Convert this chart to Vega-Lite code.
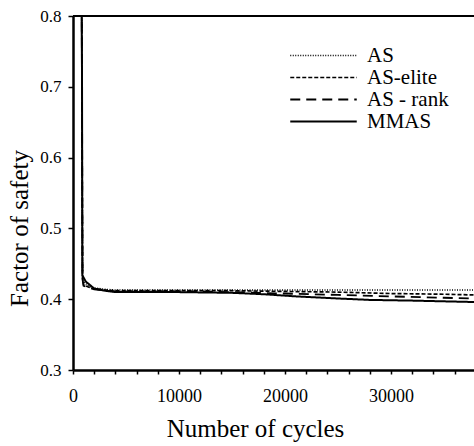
{
  "$schema": "https://vega.github.io/schema/vega-lite/v6.json",
  "autosize": {"type": "none"},
  "padding": {"left": 73, "top": 16, "right": 0, "bottom": 76},
  "width": 401,
  "height": 354,
  "background": "white",
  "config": {
    "view": {"stroke": null},
    "font": "Liberation Serif",
    "style": {
      "guide-label": {"font": "Liberation Serif", "fill": "black"},
      "guide-title": {"font": "Liberation Serif", "fill": "black"}
    }
  },
  "data": {"values": [
    {"s": "AS", "x": 800, "y": 0.95}, {"s": "AS", "x": 900, "y": 0.432}, {"s": "AS", "x": 1000, "y": 0.425}, {"s": "AS", "x": 1500, "y": 0.418}, {"s": "AS", "x": 2000, "y": 0.416}, {"s": "AS", "x": 3000, "y": 0.414}, {"s": "AS", "x": 4000, "y": 0.413}, {"s": "AS", "x": 10000, "y": 0.413}, {"s": "AS", "x": 20000, "y": 0.413}, {"s": "AS", "x": 30000, "y": 0.413}, {"s": "AS", "x": 37830, "y": 0.413},
    {"s": "AS-elite", "x": 800, "y": 0.95}, {"s": "AS-elite", "x": 900, "y": 0.43}, {"s": "AS-elite", "x": 1000, "y": 0.42}, {"s": "AS-elite", "x": 1500, "y": 0.417}, {"s": "AS-elite", "x": 2000, "y": 0.415}, {"s": "AS-elite", "x": 3000, "y": 0.413}, {"s": "AS-elite", "x": 4000, "y": 0.412}, {"s": "AS-elite", "x": 10000, "y": 0.412}, {"s": "AS-elite", "x": 15000, "y": 0.412}, {"s": "AS-elite", "x": 20000, "y": 0.411}, {"s": "AS-elite", "x": 25000, "y": 0.41}, {"s": "AS-elite", "x": 30000, "y": 0.408}, {"s": "AS-elite", "x": 35000, "y": 0.407}, {"s": "AS-elite", "x": 37830, "y": 0.406},
    {"s": "AS - rank", "x": 800, "y": 0.95}, {"s": "AS - rank", "x": 900, "y": 0.428}, {"s": "AS - rank", "x": 1000, "y": 0.419}, {"s": "AS - rank", "x": 1500, "y": 0.416}, {"s": "AS - rank", "x": 2000, "y": 0.414}, {"s": "AS - rank", "x": 3000, "y": 0.412}, {"s": "AS - rank", "x": 4000, "y": 0.411}, {"s": "AS - rank", "x": 10000, "y": 0.411}, {"s": "AS - rank", "x": 15000, "y": 0.41}, {"s": "AS - rank", "x": 20000, "y": 0.408}, {"s": "AS - rank", "x": 25000, "y": 0.406}, {"s": "AS - rank", "x": 30000, "y": 0.404}, {"s": "AS - rank", "x": 35000, "y": 0.402}, {"s": "AS - rank", "x": 37830, "y": 0.401},
    {"s": "MMAS", "x": 750, "y": 0.95}, {"s": "MMAS", "x": 850, "y": 0.72}, {"s": "MMAS", "x": 880, "y": 0.434}, {"s": "MMAS", "x": 1200, "y": 0.425}, {"s": "MMAS", "x": 2000, "y": 0.415}, {"s": "MMAS", "x": 3000, "y": 0.412}, {"s": "MMAS", "x": 4000, "y": 0.41}, {"s": "MMAS", "x": 10000, "y": 0.41}, {"s": "MMAS", "x": 15000, "y": 0.409}, {"s": "MMAS", "x": 18000, "y": 0.407}, {"s": "MMAS", "x": 21000, "y": 0.404}, {"s": "MMAS", "x": 25000, "y": 0.401}, {"s": "MMAS", "x": 28000, "y": 0.399}, {"s": "MMAS", "x": 32000, "y": 0.398}, {"s": "MMAS", "x": 37830, "y": 0.396}
  ]},
  "layer": [
    {
      "mark": {"type": "rule", "color": "black", "strokeWidth": 2},
      "encoding": {"y": {"datum": 0.8, "type": "quantitative"}}
    },
    {
      "mark": {"type": "line", "color": "black", "clip": true},
      "encoding": {
        "x": {
          "field": "x", "type": "quantitative",
          "scale": {"domain": [0, 37830], "nice": false, "zero": false},
          "axis": {
            "title": "Number of cycles",
            "grid": false,
            "domainColor": "black",
            "domainWidth": 2.5,
            "tickColor": "black",
            "tickWidth": 1.5,
            "labelFont": "Liberation Serif",
            "labelFontSize": 18,
            "labelColor": "black",
            "titleFont": "Liberation Serif",
            "titleFontSize": 25,
            "titleFontWeight": "normal",
            "titleColor": "black",
            "values": [0, 2000, 4000, 6000, 8000, 10000, 12000, 14000, 16000, 18000, 20000, 22000, 24000, 26000, 28000, 30000, 32000, 34000, 36000],
            "format": "d",
            "labelExpr": "datum.value % 10000 == 0 ? datum.label : ''",
            "labelOverlap": false,
            "labelFlush": false,
            "tickSize": 4,
            "labelPadding": 13,
            "titleX": 182,
            "titleY": 66,
            "titleAlign": "center",
            "titleBaseline": "alphabetic"
          }
        },
        "y": {
          "field": "y", "type": "quantitative",
          "scale": {"domain": [0.3, 0.8], "nice": false, "zero": false},
          "axis": {
            "title": "Factor of safety",
            "grid": false,
            "domainColor": "black",
            "domainWidth": 2.5,
            "tickColor": "black",
            "tickWidth": 1.5,
            "labelFont": "Liberation Serif",
            "labelFontSize": 17,
            "labelColor": "black",
            "titleFont": "Liberation Serif",
            "titleFontSize": 25,
            "titleFontWeight": "normal",
            "titleColor": "black",
            "values": [0.3, 0.4, 0.5, 0.6, 0.7, 0.8],
            "format": ".1f",
            "tickSize": 5,
            "labelPadding": 7,
            "titleX": -54,
            "titleY": 212,
            "titleAlign": "center",
            "titleBaseline": "middle",
            "titleAngle": -90
          }
        },
        "strokeDash": {
          "field": "s", "type": "nominal",
          "scale": {"domain": ["AS", "AS-elite", "AS - rank", "MMAS"], "range": [[1, 1.5], [4, 2], [10, 6], [1, 0]]},
          "legend": {
            "title": null,
            "orient": "none",
            "legendX": 240,
            "legendY": 29,
            "padding": 0,
            "symbolType": "M-3.5,0H3.5",
            "symbolSize": 361,
            "symbolStrokeColor": "black",
            "symbolStrokeWidth": 2,
            "labelOffset": 33,
            "labelFont": "Liberation Serif",
            "labelFontSize": 21,
            "labelColor": "black",
            "rowPadding": 0
          }
        },
        "strokeWidth": {
          "field": "s", "type": "nominal",
          "scale": {"domain": ["AS", "AS-elite", "AS - rank", "MMAS"], "range": [1.5, 2, 2, 2.5]},
          "legend": null
        }
      }
    }
  ]
}
